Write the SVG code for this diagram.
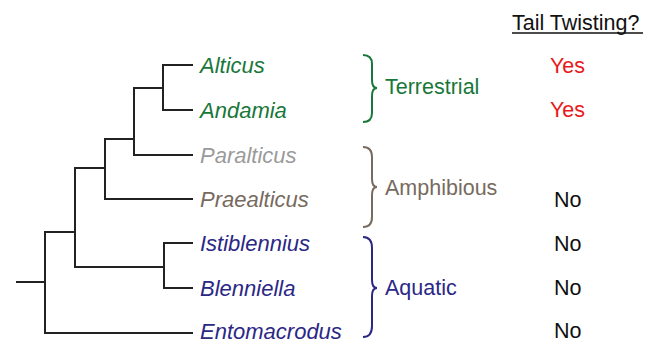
<svg xmlns="http://www.w3.org/2000/svg" width="645" height="343" viewBox="0 0 645 343">
<style>
.tree{fill:none;stroke:#222;stroke-width:2;stroke-linecap:butt}
.tx{font-family:"Liberation Sans",Arial,sans-serif;font-size:21.5px}
.it{font-style:italic;font-size:22px}
.br{fill:none;stroke-width:2}
.g{fill:#18773a}.gs{stroke:#18773a}
.gr{fill:#9a9a9a}
.bw{fill:#776a5e}.bws{stroke:#776a5e}
.nv{fill:#2b2785}.nvs{stroke:#2b2785}
.rd{fill:#e8191b}
.bk{fill:#111}
</style>
<rect width="645" height="343" fill="#fff"/>
<g id="connectors">
<path class="tree" d="M193,65H163V110H193"/>
<path class="tree" d="M163,88H134V155H193"/>
<path class="tree" d="M134,139H105V199H193"/>
<path class="tree" d="M193,243H164V288H193"/>
<path class="tree" d="M105,168H75V267H164"/>
<path class="tree" d="M75,232H45V333H193"/>
<path class="tree" d="M16,282H45"/>
</g>
<g id="alticus"><text class="tx it g" x="200" y="73">Alticus</text></g>
<g id="andamia"><text class="tx it g" x="200" y="117.5">Andamia</text></g>
<g id="paralticus"><text class="tx it gr" x="200" y="162.5">Paralticus</text></g>
<g id="praealticus"><text class="tx it bw" x="200" y="206.5">Praealticus</text></g>
<g id="istiblennius"><text class="tx it nv" x="200" y="250.5">Istiblennius</text></g>
<g id="blenniella"><text class="tx it nv" x="200" y="295.5">Blenniella</text></g>
<g id="entomacrodus"><text class="tx it nv" x="200" y="338.5">Entomacrodus</text></g>
<g id="terrestrial">
<path class="br gs" d="M363,55Q372,55 372,64L372,80Q372,88 377,88Q372,88 372,96L372,113Q372,122 363,122"/>
<text class="tx g" x="385" y="94">Terrestrial</text>
</g>
<g id="amphibious">
<path class="br bws" d="M363,147Q372,147 372,157L372,179Q372,187 377,187Q372,187 372,195L372,217Q372,227 363,227"/>
<text class="tx bw" x="385" y="195">Amphibious</text>
</g>
<g id="aquatic">
<path class="br nvs" d="M363,237Q372,237 372,248L372,280Q372,288 377,288Q372,288 372,296L372,326Q372,337 363,337"/>
<text class="tx nv" x="385" y="295">Aquatic</text>
</g>
<g id="tail-twisting">
<text class="tx bk" x="512" y="30">Tail Twisting?</text>
<line x1="512" y1="33" x2="643" y2="33" stroke="#111" stroke-width="1.3"/>
<text class="tx rd" x="550" y="73">Yes</text>
<text class="tx rd" x="550" y="117">Yes</text>
<text class="tx bk" x="554" y="207">No</text>
<text class="tx bk" x="554" y="251">No</text>
<text class="tx bk" x="554" y="295">No</text>
<text class="tx bk" x="554" y="338">No</text>
</g>
</svg>
